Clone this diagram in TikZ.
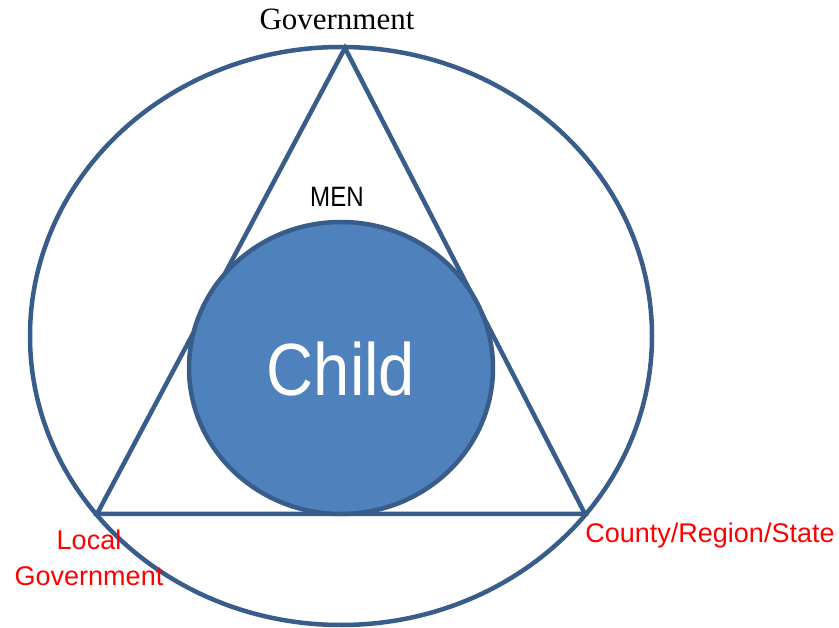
\documentclass[tikz,border=0pt]{standalone}
\usepackage{fontspec}
\usepackage{graphicx}
\setmainfont{Liberation Serif}
\newfontfamily\arialf{Liberation Sans}
\usetikzlibrary{shapes.geometric}
\definecolor{lineblue}{HTML}{385D8A}
\definecolor{fillblue}{HTML}{4F81BD}
\definecolor{redtext}{HTML}{FF0000}
\tikzset{
  ring/.style={ellipse, draw=lineblue, line width=4.5pt, inner sep=0pt},
  redlabel/.style={text=redtext, font=\arialf\fontsize{27}{35}\selectfont, anchor=base, inner sep=0pt, align=center},
}
\begin{document}
\begin{tikzpicture}[x=1pt,y=-1pt]
\useasboundingbox (0,0) rectangle (839,628);
% outer ellipse
\node[ring, minimum width=622pt, minimum height=578pt] (outer) at (341,336) {};
% triangle
\coordinate (apex) at (345,48);
\coordinate (left) at (97,514);
\coordinate (right) at (585,514);
\draw[lineblue, line width=4.5pt, line join=miter] (apex) -- (left) -- (right) -- cycle;
% child circle
\node[ring, fill=fillblue, minimum width=304pt, minimum height=292pt] (child) at (341,368) {};
\node[anchor=base, inner sep=0pt, text=white, font=\arialf\fontsize{74}{80}\selectfont] (childtxt) at (341,396) {\scalebox{0.88}[1]{Child}};
% labels
\node[anchor=base, inner sep=0pt, font=\fontsize{31}{36}\selectfont] (gov) at (337,30) {Government};
\node[anchor=base, inner sep=0pt, font=\arialf\fontsize{28}{30}\selectfont] (men) at (337,207) {\scalebox{0.86}[1]{MEN}};
\node[redlabel] (local) at (89,550) {Local};
\node[redlabel] (localgov) at (89,585) {Government};
\node[redlabel] (county) at (710,543) {County/Region/State};
\end{tikzpicture}
\end{document}
